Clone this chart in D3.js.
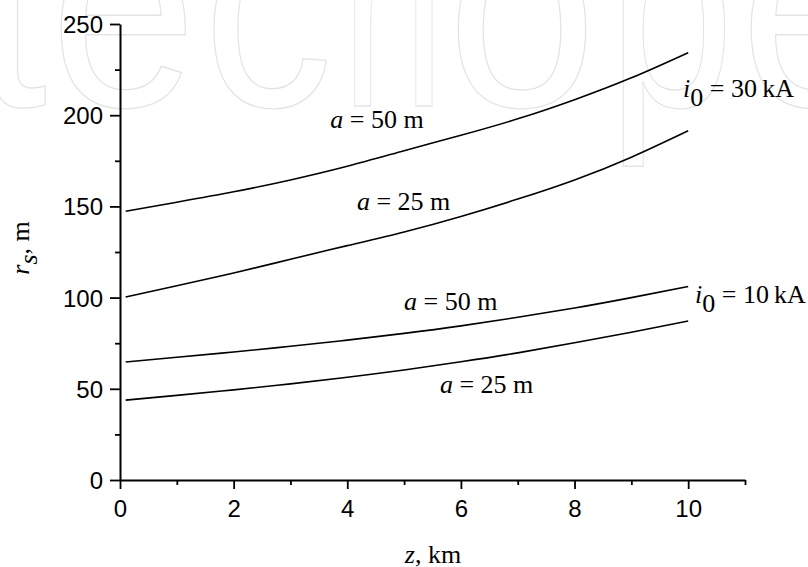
<!DOCTYPE html>
<html>
<head>
<meta charset="utf-8">
<script src="https://cdn.jsdelivr.net/npm/d3@7"></script>
<style>
  html, body { margin: 0; padding: 0; background: #fff; }
  svg { display: block; }
</style>
</head>
<body>
<svg id="chart" width="808" height="567"></svg>
<script>
// ---- data ----
const zValues = [0.1, 1, 2, 3, 4, 5, 6, 7, 8, 9, 10];
const rs30a50 = [147.3, 152.3, 158, 164.5, 172, 180.5, 189, 198, 208.5, 220.5, 234.3];
const rs30a25 = [100.3, 106.5, 113.5, 121, 128.5, 136, 144.5, 154, 164.5, 177, 191.5];
const rs10a50 = [64.7, 67.3, 70.2, 73.3, 76.7, 80.4, 84.5, 89.2, 94.3, 100, 106.1];
const rs10a25 = [43.8, 46.4, 49.4, 52.7, 56.3, 60.3, 64.8, 69.7, 75.2, 81, 87.2];
const xMajorTicks = [0, 2, 4, 6, 8, 10];
const xMinorTicks = [1, 3, 5, 7, 9, 11];
const yMajorTicks = [0, 50, 100, 150, 200, 250];
const yMinorTicks = [25, 75, 125, 175, 225];
const curveLabels = [
  { z: 3.70, r: 193, a: "50" },
  { z: 4.17, r: 148, a: "25" },
  { z: 5.00, r: 93.2, a: "50" },
  { z: 5.63, r: 47.7, a: "25" }
];
const currentLabels = [
  { z: 9.91, r: 210, i: "30" },
  { z: 10.12, r: 97, i: "10" }
];
const watermarkLetters = [
  { ch: "t", x: -25, w: 72 },
  { ch: "e", x: 50, w: 147 },
  { ch: "c", x: 203, w: 130 },
  { ch: "n", x: 342, w: 102 },
  { ch: "o", x: 447, w: 150 },
  { ch: "p", x: 608, w: 126 },
  { ch: "e", x: 740, w: 147 }
];

const svg = d3.select("#chart");
const serif = "'Liberation Serif', 'Times New Roman', serif";
const sans = "'Liberation Sans', Arial, Helvetica, sans-serif";

// ---- watermark ----
const wm = svg.append("g").attr("class", "watermark");
watermarkLetters.forEach(d => {
  wm.append("text")
    .attr("x", d.x).attr("y", 106)
    .attr("textLength", d.w).attr("lengthAdjust", "spacingAndGlyphs")
    .attr("font-family", sans).attr("font-size", 290)
    .attr("fill", "none").attr("stroke", "#e4e4e4").attr("stroke-width", 1.4)
    .text(d.ch);
});

// ---- scales ----
const x = d3.scaleLinear().domain([0, 11]).range([120, 745]);
const y = d3.scaleLinear().domain([0, 250]).range([480, 24]);

// ---- axes ----
const gx = svg.append("g").attr("transform", `translate(0,${y(0)})`);
gx.call(d3.axisBottom(x).tickValues(xMajorTicks).tickSize(9).tickSizeOuter(0).tickFormat(d3.format("d")));
gx.append("g").call(d3.axisBottom(x).tickValues(xMinorTicks).tickSize(5).tickSizeOuter(0).tickFormat(""))
  .select(".domain").remove();
gx.selectAll(".domain").attr("stroke", "#000").attr("stroke-width", 2);
gx.selectAll(".tick line").attr("stroke", "#000").attr("stroke-width", 1.8);
gx.selectAll(".tick text").attr("y", 37).attr("dy", 0)
  .attr("font-family", sans).attr("font-size", 24).attr("fill", "#000");

const gy = svg.append("g").attr("transform", `translate(${x(0)},0)`);
gy.call(d3.axisLeft(y).tickValues(yMajorTicks).tickSize(10).tickSizeOuter(0).tickFormat(d3.format("d")));
gy.append("g").call(d3.axisLeft(y).tickValues(yMinorTicks).tickSize(5).tickSizeOuter(0).tickFormat(""))
  .select(".domain").remove();
gy.selectAll(".domain").attr("stroke", "#000").attr("stroke-width", 2);
gy.selectAll(".tick line").attr("stroke", "#000").attr("stroke-width", 1.8);
gy.selectAll(".tick text").attr("x", -17).attr("dy", "0.35em")
  .attr("font-family", sans).attr("font-size", 24).attr("fill", "#000");

// ---- curves ----
const line = d3.line()
  .x((d, i) => x(zValues[i]))
  .y(d => y(d))
  .curve(d3.curveNatural);
[rs30a50, rs30a25, rs10a50, rs10a25].forEach(s => {
  svg.append("path").attr("d", line(s))
    .attr("fill", "none").attr("stroke", "#000").attr("stroke-width", 1.6);
});

// ---- annotations ----
curveLabels.forEach(d => {
  const t = svg.append("text")
    .attr("x", x(d.z)).attr("y", y(d.r))
    .attr("font-family", serif).attr("font-size", 26).attr("fill", "#000");
  t.append("tspan").attr("font-style", "italic").text("a");
  t.append("tspan").text(` = ${d.a} m`);
});
currentLabels.forEach(d => {
  const t = svg.append("text")
    .attr("x", x(d.z)).attr("y", y(d.r))
    .attr("font-family", serif).attr("font-size", 26).attr("fill", "#000");
  t.append("tspan").attr("font-style", "italic").text("i");
  t.append("tspan").attr("dy", 9).text("0");
  t.append("tspan").attr("dy", -9).text(` = ${d.i}\u2009kA`);
});

// ---- axis titles ----
const xt = svg.append("text")
  .attr("x", 433).attr("y", 563).attr("text-anchor", "middle")
  .attr("font-family", serif).attr("font-size", 26).attr("fill", "#000");
xt.append("tspan").attr("font-style", "italic").text("z");
xt.append("tspan").text(", km");

const yt = svg.append("text")
  .attr("transform", "translate(29,248) rotate(-90)")
  .attr("text-anchor", "middle")
  .attr("font-family", serif).attr("font-size", 26).attr("fill", "#000");
yt.append("tspan").attr("font-style", "italic").text("r");
yt.append("tspan").attr("font-style", "italic").attr("dy", 8).text("s");
yt.append("tspan").attr("dy", -8).text(", m");
</script>
</body>
</html>
